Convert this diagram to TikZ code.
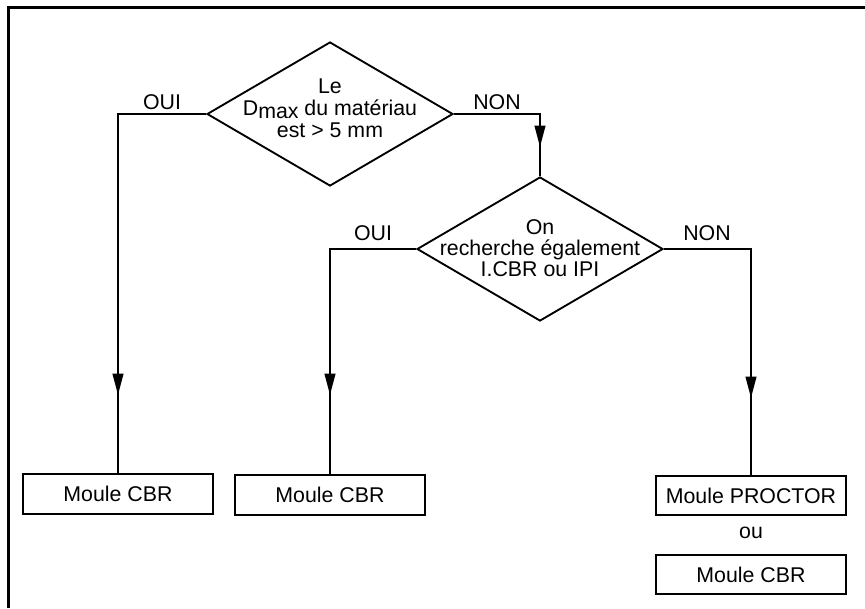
\documentclass[tikz,border=0pt]{standalone}
\usepackage{fontspec}
\setmainfont{Liberation Sans}
\usetikzlibrary{shapes.geometric,arrows.meta}
\begin{document}
\begin{tikzpicture}[x=0.75pt,y=-0.75pt]
        \tikzstyle{question}=[diamond,draw=black,line width=1.4pt,minimum width=184.5pt,minimum height=108pt,inner sep=0pt]
        \tikzstyle{moule}=[rectangle,draw=black,line width=1.5pt,minimum width=143pt,minimum height=29.5pt,font=\fontsize{16}{17}\selectfont]
        \tikzstyle{txt}=[align=center,inner sep=0pt,font=\fontsize{16}{15.8}\selectfont]
        \tikzstyle{edge}=[draw,line width=1.4pt]
        \tikzstyle{arrow}=[edge,-{Triangle[length=16pt,width=8pt]}]
        \useasboundingbox (0,0) rectangle (865,608);
        % cadre
        \draw[line width=1.6pt] (8.5,608) -- (8.5,7.5) -- (865,7.5);
        % questions
        \node [question] (q1) at (330,114) {};
        \node [txt,font=\fontsize{16}{16.5}\selectfont] (t1) at (330,108) {Le\\D\raisebox{-0.3ex}{max} du matériau\\est > 5 mm};
        \node [question] (q2) at (540,249) {};
        \node [txt] (t2) at (540,248) {On\\recherche également\\I.CBR ou IPI};
        % moules
        \node [moule] (m1) at (118,494) {Moule CBR};
        \node [moule] (m2) at (330,495) {Moule CBR};
        \node [moule] (m3) at (751,495.5) {Moule PROCTOR};
        \node [txt] (ou) at (751,533) {ou};
        \node [moule] (m4) at (751,574.5) {Moule CBR};
        % pointes des fleches
        \coordinate (a1) at (118,395);
        \coordinate (a2) at (540,147);
        \coordinate (a3) at (330,395);
        \coordinate (a4) at (751,398);
        % liaisons
        \path[edge] (q1.west) -| (m1.north);
        \path[arrow] (m1.north |- q1.west) -- (a1);
        \path[edge] (q1.east) -| (q2.north);
        \path[arrow] (q2.north |- q1.east) -- (a2);
        \path[edge] (q2.west) -| (m2.north);
        \path[arrow] (m2.north |- q2.west) -- (a3);
        \path[edge] (q2.east) -| (m3.north);
        \path[arrow] (m3.north |- q2.east) -- (a4);
        % reponses
        \node [txt] (oui1) at (162,102) {OUI};
        \node [txt] (non1) at (497,102) {NON};
        \node [txt] (oui2) at (373,233) {OUI};
        \node [txt] (non2) at (707,233) {NON};
\end{tikzpicture}
\end{document}
